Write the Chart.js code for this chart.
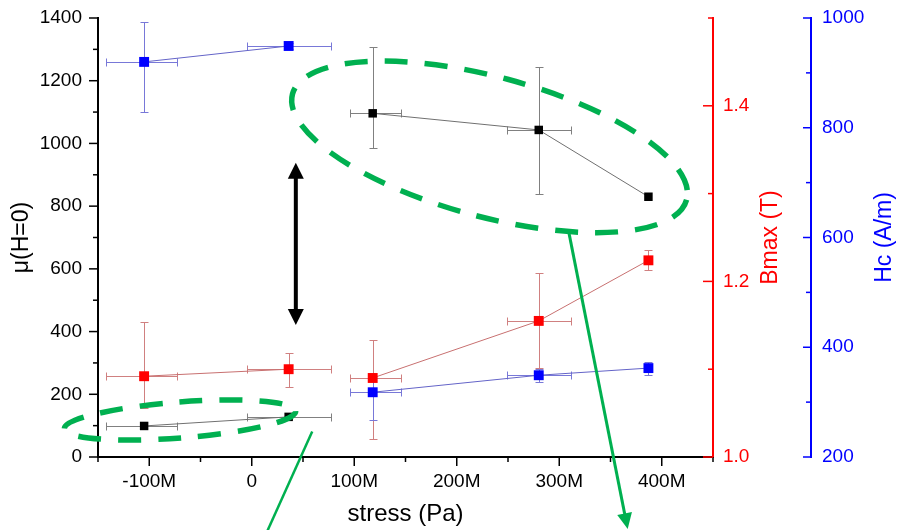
<!DOCTYPE html>
<html>
<head>
<meta charset="utf-8">
<script src="https://cdn.jsdelivr.net/npm/chart.js@4.4.1/dist/chart.umd.min.js"></script>
<style>
  html, body { margin: 0; padding: 0; background: #fff; }
  #wrap { width: 897px; height: 530px; }
</style>
</head>
<body>
<div id="wrap"><canvas id="chart" width="897" height="530"></canvas></div>
<script>
// stress (Pa) and its horizontal error bars
const stress = [-105e6, 36e6, 118e6, 280e6, 387e6];
const stressErrMinus = [37e6, 41e6, 22e6, 31e6, 0];
const stressErrPlus = [32e6, 41e6, 28e6, 31e6, 0];
// points are only joined inside the same group
const group = [0, 0, 1, 1, 1];

// mu(H=0), left axis
const mu = [99, 128, 1096, 1043, 830];
const muErrMinus = [0, 0, 112, 204, 0];
const muErrPlus = [0, 0, 212, 202, 0];

// Bmax (T), red axis
const bmax = [1.092, 1.100, 1.090, 1.155, 1.224];
const bmaxErrMinus = [0.036, 0.020, 0.070, 0.054, 0.011];
const bmaxErrPlus = [0.062, 0.019, 0.043, 0.055, 0.012];

// Hc (A/m), blue axis
const hc = [920, 949, 318, 349, 362];
const hcErrMinus = [91, 5, 50, 12, 12];
const hcErrPlus = [73, 5, 26, 12, 12];

// tick values / labels
const xTicks = [-100e6, 0, 100e6, 200e6, 300e6, 400e6];
const xTickLabels = ['-100M', '0', '100M', '200M', '300M', '400M'];
const xMinor = [-150e6, -50e6, 50e6, 150e6, 250e6, 350e6, 450e6];
const muTicks = [0, 200, 400, 600, 800, 1000, 1200, 1400];
const muTickLabels = ['0', '200', '400', '600', '800', '1000', '1200', '1400'];
const muMinor = [100, 300, 500, 700, 900, 1100, 1300];
const bTicks = [1.0, 1.2, 1.4];
const bTickLabels = ['1.0', '1.2', '1.4'];
const bMinor = [1.1, 1.3, 1.5];
const hcTicks = [200, 400, 600, 800, 1000];
const hcTickLabels = ['200', '400', '600', '800', '1000'];
const hcMinor = [300, 500, 700, 900];

// green markings (centre in data units, radii in px)
const ellipses = [
    { x: -70e6, y: 118, rx: 116, ry: 18, rot: -4.4 },
    { x: 232e6, y: 989, rx: 204, ry: 70, rot: 15 }
];
const greenLines = [
    { x1: 59e6, y1: 81, x2: 9e6, y2: -281, head: false, w: 2.5 },
    { x1: 309.5e6, y1: 714, x2: 366.8e6, y2: -230, head: true, w: 3 }
];
const muArrow = { x: 43e6, from: 421, to: 938 };

const GREEN = '#00b050';
Chart.defaults.font.family = "'Liberation Sans', Arial, sans-serif";

function points(ys, ym, yp) {
    return stress.map((x, i) => ({
        x: x, y: ys[i],
        xm: stressErrMinus[i], xp: stressErrPlus[i],
        ym: ym[i], yp: yp[i]
    }));
}

function series(label, ys, ym, yp, axis, color, lineColor, errColor, r) {
    return {
        label: label,
        data: points(ys, ym, yp),
        yAxisID: axis,
        showLine: true,
        borderColor: lineColor,
        borderWidth: 1,
        backgroundColor: color,
        pointBackgroundColor: color,
        pointBorderColor: color,
        pointBorderWidth: 0,
        pointStyle: 'rect',
        pointRadius: r,
        errColor: errColor,
        segment: {
            borderColor: c => group[c.p0DataIndex] !== group[c.p1DataIndex] ? 'rgba(0,0,0,0)' : undefined
        }
    };
}

// invisible chart.js tick marks, only used to push labels away from the axis line
function hiddenGrid(len) {
    return {
        display: true, drawOnChartArea: false, drawTicks: true,
        tickLength: len, color: 'rgba(0,0,0,0)', tickColor: 'rgba(0,0,0,0)'
    };
}

function hLine(ctx, x0, x1, y) {
    ctx.beginPath(); ctx.moveTo(x0, y); ctx.lineTo(x1, y); ctx.stroke();
}
function vLine(ctx, x, y0, y1) {
    ctx.beginPath(); ctx.moveTo(x, y0); ctx.lineTo(x, y1); ctx.stroke();
}

const errorBars = {
    id: 'errorBars',
    beforeDatasetsDraw(chart) {
        const ctx = chart.ctx;
        const xs = chart.scales.x;
        chart.data.datasets.forEach(ds => {
            const ys = chart.scales[ds.yAxisID];
            ctx.save();
            ctx.strokeStyle = ds.errColor;
            ctx.lineWidth = 1;
            ds.data.forEach(p => {
                const x = Math.round(xs.getPixelForValue(p.x)) + 0.5;
                const y = Math.round(ys.getPixelForValue(p.y)) + 0.5;
                if (p.xm || p.xp) {
                    const x0 = Math.round(xs.getPixelForValue(p.x - p.xm)) + 0.5;
                    const x1 = Math.round(xs.getPixelForValue(p.x + p.xp)) + 0.5;
                    hLine(ctx, x0, x1, y);
                    vLine(ctx, x0, y - 4, y + 4);
                    vLine(ctx, x1, y - 4, y + 4);
                }
                if (p.ym || p.yp) {
                    const y0 = Math.round(ys.getPixelForValue(p.y - p.ym)) + 0.5;
                    const y1 = Math.round(ys.getPixelForValue(p.y + p.yp)) + 0.5;
                    vLine(ctx, x, y0, y1);
                    hLine(ctx, x - 4, x + 4, y0);
                    hLine(ctx, x - 4, x + 4, y1);
                }
            });
            ctx.restore();
        });
    }
};

function tickMarks(ctx, scale, major, minor, color, horizontal, base, dir, majLen, minLen) {
    ctx.save();
    ctx.strokeStyle = color;
    ctx.lineWidth = 1.5;
    const draw = (v, len) => {
        const p = scale.getPixelForValue(v);
        if (horizontal) vLine(ctx, p, base, base + dir * len);
        else hLine(ctx, base, base + dir * len, p);
    };
    major.forEach(v => draw(v, majLen));
    minor.forEach(v => draw(v, minLen));
    ctx.restore();
}

function arrowHead(ctx, x, y, ang, len, wid) {
    ctx.save();
    ctx.translate(x, y);
    ctx.rotate(ang);
    ctx.beginPath();
    ctx.moveTo(0, 0);
    ctx.lineTo(-len, -wid / 2);
    ctx.lineTo(-len, wid / 2);
    ctx.closePath();
    ctx.fill();
    ctx.restore();
}

const decorations = {
    id: 'decorations',
    afterDraw(chart) {
        const ctx = chart.ctx;
        const { x: xs, y: ys, yB, yH } = chart.scales;
        const area = chart.chartArea;

        // axis tick marks (major + minor)
        tickMarks(ctx, xs, xTicks, xMinor, '#000', true, area.bottom, 1, 9, 5);
        tickMarks(ctx, ys, muTicks, muMinor, '#000', false, area.left, -1, 9, 5);
        tickMarks(ctx, yB, bTicks, bMinor, '#ff0000', false, yB.left, -1, 10, 5);
        tickMarks(ctx, yH, hcTicks, hcMinor, '#0000ff', false, yH.left, -1, 8, 5);

        // right-hand axis titles, reading bottom to top
        ctx.save();
        ctx.font = "23px 'Liberation Sans', Arial, sans-serif";
        ctx.textAlign = 'center';
        ctx.textBaseline = 'middle';
        const midY = (area.top + area.bottom) / 2;
        [[yB.left + 58, '#ff0000', 'Bmax (T)'], [yH.left + 74, '#0000ff', 'Hc (A/m)']].forEach(t => {
            ctx.save();
            ctx.translate(t[0], midY);
            ctx.rotate(-Math.PI / 2);
            ctx.fillStyle = t[1];
            ctx.fillText(t[2], 0, 0);
            ctx.restore();
        });
        ctx.restore();

        // black double arrow
        ctx.save();
        const ax = xs.getPixelForValue(muArrow.x);
        const ay0 = ys.getPixelForValue(muArrow.from);
        const ay1 = ys.getPixelForValue(muArrow.to);
        ctx.strokeStyle = '#000';
        ctx.fillStyle = '#000';
        ctx.lineWidth = 4;
        vLine(ctx, ax, ay0 - 12, ay1 + 12);
        arrowHead(ctx, ax, ay0, Math.PI / 2, 16, 16);
        arrowHead(ctx, ax, ay1, -Math.PI / 2, 16, 16);
        ctx.restore();

        // dashed green ellipses
        ctx.save();
        ctx.strokeStyle = GREEN;
        ctx.lineWidth = 5.5;
        ctx.setLineDash([23, 17]);
        ellipses.forEach(e => {
            ctx.beginPath();
            ctx.ellipse(xs.getPixelForValue(e.x), ys.getPixelForValue(e.y), e.rx, e.ry,
                e.rot * Math.PI / 180, 0, Math.PI * 2);
            ctx.stroke();
        });
        ctx.restore();

        // green pointer lines
        ctx.save();
        ctx.strokeStyle = GREEN;
        ctx.fillStyle = GREEN;
        greenLines.forEach(g => {
            const x1 = xs.getPixelForValue(g.x1), y1 = ys.getPixelForValue(g.y1);
            const x2 = xs.getPixelForValue(g.x2), y2 = ys.getPixelForValue(g.y2);
            const ang = Math.atan2(y2 - y1, x2 - x1);
            ctx.lineWidth = g.w;
            const shorten = g.head ? 12 : 0;
            ctx.beginPath();
            ctx.moveTo(x1, y1);
            ctx.lineTo(x2 - Math.cos(ang) * shorten, y2 - Math.sin(ang) * shorten);
            ctx.stroke();
            if (g.head) arrowHead(ctx, x2, y2, ang, 16, 15);
        });
        ctx.restore();
    }
};

function initChart() {
    const canvas = document.getElementById('chart');
    new Chart(canvas, {
        type: 'scatter',
        data: {
            datasets: [
                series('mu(H=0)', mu, muErrMinus, muErrPlus, 'y', '#000000', '#707070', '#808080', 6),
                series('Bmax', bmax, bmaxErrMinus, bmaxErrPlus, 'yB', '#ff0000', '#c87070', '#d08080', 7),
                series('Hc', hc, hcErrMinus, hcErrPlus, 'yH', '#0000ff', '#6464c8', '#7878d8', 7)
            ]
        },
        options: {
            responsive: false,
            animation: false,
            devicePixelRatio: 1,
            layout: { padding: { top: 18, left: 0, right: 0, bottom: 0 } },
            plugins: { legend: { display: false }, tooltip: { enabled: false } },
            scales: {
                x: {
                    type: 'linear', min: -150e6, max: 450e6,
                    afterBuildTicks: s => { s.ticks = xTicks.map(v => ({ value: v })); },
                    afterFit: s => { s.height = 73; },
                    ticks: {
                        callback: (v, i) => xTickLabels[i],
                        font: { size: 19 }, color: '#000', padding: 0,
                        maxRotation: 0, autoSkip: false
                    },
                    grid: hiddenGrid(13),
                    border: { display: true, color: '#000', width: 2 },
                    title: {
                        display: true, text: 'stress (Pa)', color: '#000',
                        font: { size: 24 }, padding: { top: 0, bottom: 1 }
                    }
                },
                y: {
                    type: 'linear', position: 'left', min: 0, max: 1400,
                    afterBuildTicks: s => { s.ticks = muTicks.map(v => ({ value: v })); },
                    afterFit: s => { s.width = 98; },
                    ticks: {
                        callback: (v, i) => muTickLabels[i],
                        font: { size: 19 }, color: '#000', padding: 0, autoSkip: false
                    },
                    grid: hiddenGrid(16),
                    border: { display: true, color: '#000', width: 2 },
                    title: {
                        display: true, text: 'μ(H=0)', color: '#000',
                        font: { size: 23 }, padding: { top: 8, bottom: 0 }
                    }
                },
                yB: {
                    type: 'linear', position: 'right', weight: 0, min: 1.0, max: 1.5,
                    afterBuildTicks: s => { s.ticks = bTicks.map(v => ({ value: v })); },
                    afterFit: s => { s.width = 98; },
                    ticks: {
                        callback: (v, i) => bTickLabels[i],
                        font: { size: 19 }, color: '#ff0000', padding: 0, autoSkip: false
                    },
                    grid: hiddenGrid(10),
                    border: { display: true, color: '#ff0000', width: 2 }
                },
                yH: {
                    type: 'linear', position: 'right', weight: 1, min: 200, max: 1000,
                    afterBuildTicks: s => { s.ticks = hcTicks.map(v => ({ value: v })); },
                    afterFit: s => { s.width = 86; },
                    ticks: {
                        callback: (v, i) => hcTickLabels[i],
                        font: { size: 19 }, color: '#0000ff', padding: 0, autoSkip: false
                    },
                    grid: hiddenGrid(11),
                    border: { display: true, color: '#0000ff', width: 2 }
                }
            }
        },
        plugins: [errorBars, decorations]
    });
}

document.addEventListener('DOMContentLoaded', initChart);
</script>
</body>
</html>
